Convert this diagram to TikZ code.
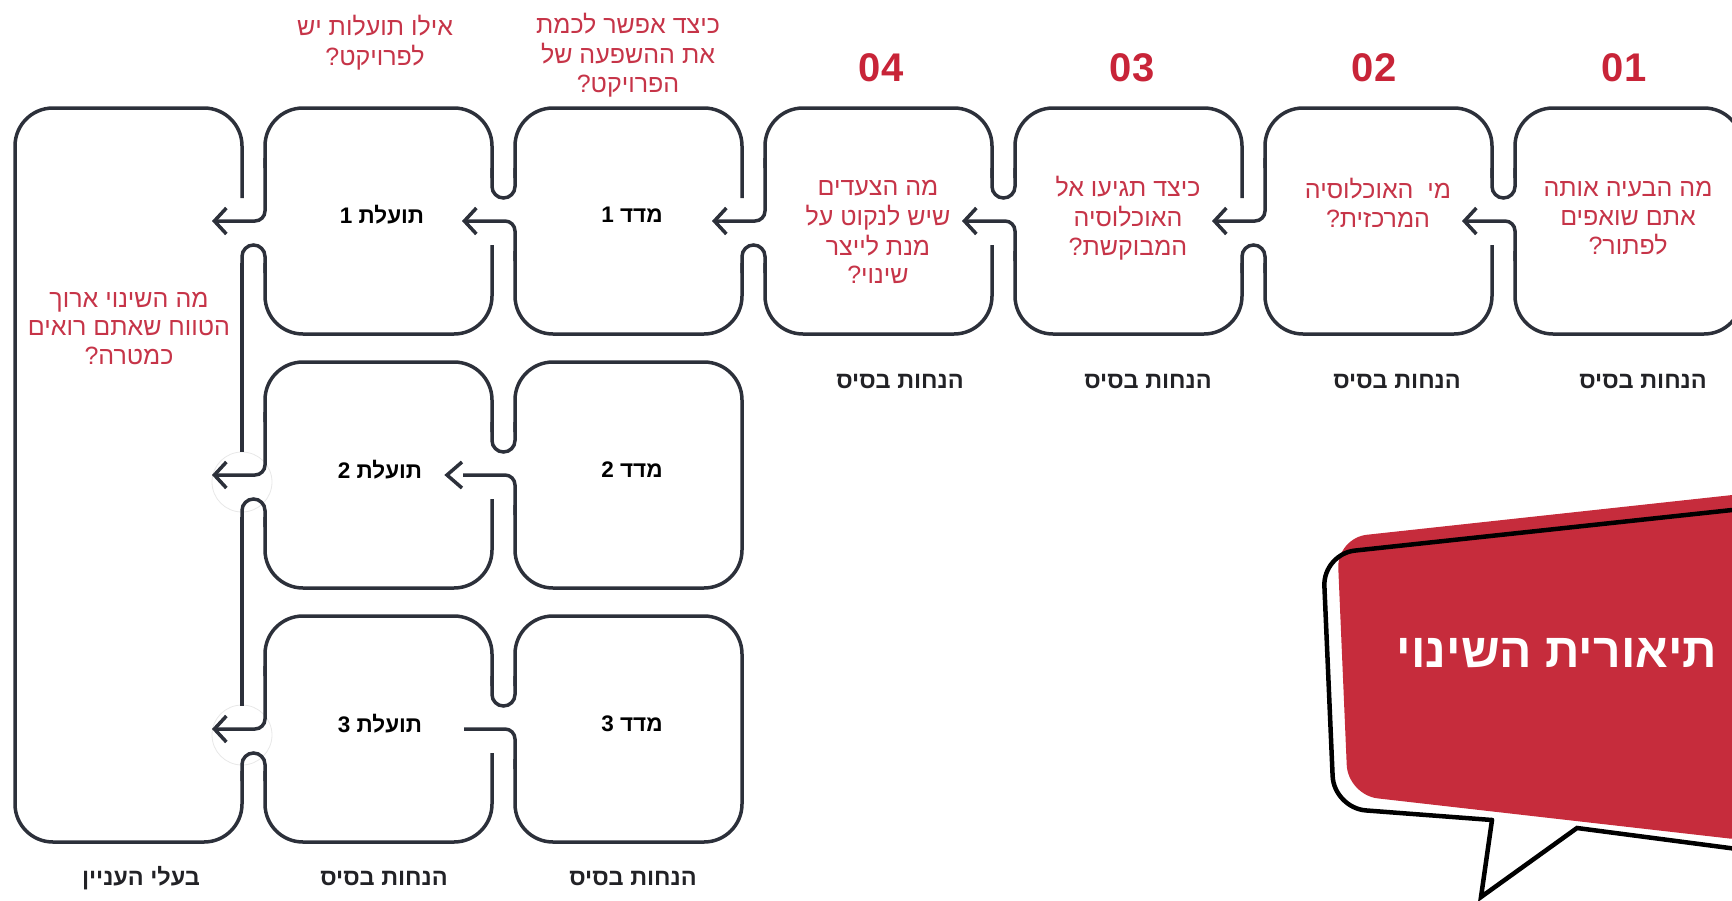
\documentclass[tikz,border=0pt]{standalone}
\usepackage{fontspec}
\usetikzlibrary{arrows.meta}
\TeXXeTstate=1
\newfontfamily\heb[Script=Hebrew]{Liberation Sans}
\newcommand{\hR}[1]{\beginR #1\endR}
\definecolor{linec}{RGB}{44,48,58}
\definecolor{qred}{RGB}{198,52,72}
\definecolor{numred}{RGB}{200,36,56}
\definecolor{bubred}{RGB}{198,44,60}
\definecolor{labc}{RGB}{34,34,38}
\begin{document}
\begin{tikzpicture}[x=1pt,y=-1pt,
  ln/.style={draw=linec, line width=3.5pt},
  bx/.style={ln, rounded corners=38pt},
  jn/.style={ln, rounded corners=11.5pt},
  ar/.style={ln, rounded corners=10pt},
  tipA/.style={-{Straight Barb[length=12pt,width=26pt]}},
  q/.style={text=qred, font=\heb\fontsize{25}{28.5}\selectfont, align=center, inner sep=0pt},
  num/.style={text=numred, font=\heb\bfseries\fontsize{40}{40}\selectfont, inner sep=0pt},
  lab/.style={text=labc, font=\heb\bfseries\fontsize{23.5}{26}\selectfont, inner sep=0pt},
  bt/.style={text=black, font=\heb\bfseries\fontsize{22.5}{26}\selectfont, inner sep=0pt},
  halo/.style={fill=white, draw=black!9, line width=0.8pt},
]
\useasboundingbox (0,0) rectangle (1732,900);
\clip (0,0) rectangle (1732,900);

% faint halos
\path[halo] (242,482) circle[radius=30pt];
\path[halo] (242,735) circle[radius=30pt];

% ---------- row 1 ----------
\draw[bx] (1515,178) -- (1515,108) -- (1742,108) -- (1742,334) -- (1515,334) -- (1515,251);
\draw[bx] (1265,168) -- (1265,108) -- (1492,108) -- (1492,178);
\draw[bx] (1265,263) -- (1265,334) -- (1492,334) -- (1492,245);
\draw[bx] (1015,178) -- (1015,108) -- (1242,108) -- (1242,198);
\draw[bx] (1015,251) -- (1015,334) -- (1242,334) -- (1242,263);
\draw[bx] (765,168) -- (765,108) -- (992,108) -- (992,178);
\draw[bx] (765,263) -- (765,334) -- (992,334) -- (992,245);
\draw[bx] (515,178) -- (515,108) -- (742,108) -- (742,198);
\draw[bx] (515,251) -- (515,334) -- (742,334) -- (742,263);
\draw[bx] (265,168) -- (265,108) -- (492,108) -- (492,178);
\draw[bx] (265,263) -- (265,334) -- (492,334) -- (492,245);
\draw[bx] (242,198) -- (242,108) -- (15,108) -- (15,842) -- (242,842) -- (242,771);

% U joints (top half)
\draw[jn] (1515,168) -- (1515,198) -- (1492,198) -- (1492,168);
\draw[jn] (1015,168) -- (1015,198) -- (992,198) -- (992,168);
\draw[jn] (515,168) -- (515,198) -- (492,198) -- (492,168);
% inverted U joints (bottom half)
\draw[jn] (1265,273) -- (1265,245) -- (1242,245) -- (1242,273);
\draw[jn] (765,273) -- (765,245) -- (742,245) -- (742,273);
\draw[jn] (265,273) -- (265,245) -- (242,245) -- (242,273);

% arrows row 1
\coordinate (a1s) at (1515,261); \coordinate (a1c) at (1515,221); \coordinate (a1t) at (1462,221);
\coordinate (a2s) at (1265,158); \coordinate (a2c) at (1265,221); \coordinate (a2t) at (1212,221);
\coordinate (a3s) at (1015,261); \coordinate (a3c) at (1015,221); \coordinate (a3t) at (962,221);
\coordinate (a4s) at (765,158);  \coordinate (a4c) at (765,221);  \coordinate (a4t) at (712,221);
\coordinate (a5s) at (515,261);  \coordinate (a5c) at (515,221);  \coordinate (a5t) at (462,221);
\coordinate (a6s) at (265,158);  \coordinate (a6c) at (265,221);  \coordinate (a6t) at (212,221);
\foreach \i in {1,...,6}{\draw[ar,tipA] (a\i s) -- (a\i c) -- (a\i t);}

% big box right edge segments
\coordinate (g1a) at (242,263); \coordinate (g1b) at (242,452);
\coordinate (g2a) at (242,517); \coordinate (g2b) at (242,706);
\draw[ln] (g1a) -- (g1b);
\draw[ln] (g2a) -- (g2b);

% ---------- row 2 ----------
\draw[bx] (515,432) -- (515,362) -- (742,362) -- (742,588) -- (515,588) -- (515,505);
\draw[bx] (265,422) -- (265,362) -- (492,362) -- (492,432);
\draw[bx] (265,517) -- (265,588) -- (492,588) -- (492,499);
\draw[jn] (515,422) -- (515,452) -- (492,452) -- (492,422);
\draw[jn] (265,527) -- (265,499) -- (242,499) -- (242,527);
\coordinate (b1s) at (515,515); \coordinate (b1c) at (515,475); \coordinate (b1t) at (463,475);
\draw[ar] (b1s) -- (b1c) -- (b1t);
\coordinate (h1a) at (462,462); \coordinate (h1t) at (447,475); \coordinate (h1b) at (462,488);
\draw[ln] (h1a) -- (h1t) -- (h1b);
\coordinate (b2s) at (265,412); \coordinate (b2c) at (265,475); \coordinate (b2t) at (212,475);
\draw[ar,tipA] (b2s) -- (b2c) -- (b2t);

% ---------- row 3 ----------
\draw[bx] (515,686) -- (515,616) -- (742,616) -- (742,842) -- (515,842) -- (515,759);
\draw[bx] (265,676) -- (265,616) -- (492,616) -- (492,686);
\draw[bx] (265,771) -- (265,842) -- (492,842) -- (492,753);
\draw[jn] (515,676) -- (515,706) -- (492,706) -- (492,676);
\draw[jn] (265,781) -- (265,753) -- (242,753) -- (242,781);
\coordinate (c1s) at (515,769); \coordinate (c1c) at (515,729); \coordinate (c1t) at (464,729);
\draw[ar] (c1s) -- (c1c) -- (c1t);
\coordinate (c2s) at (265,666); \coordinate (c2c) at (265,729); \coordinate (c2t) at (212,729);
\draw[ar,tipA] (c2s) -- (c2c) -- (c2t);

% ---------- texts ----------
\node[num] (n1) at (1624,68) {01};
\node[num] (n2) at (1374,68) {02};
\node[num] (n3) at (1132,68) {03};
\node[num] (n4) at (881,68) {04};

\node[q] (q1) at (1628,220) {\hR{מה הבעיה אותה}\strut\\\hR{אתם שואפים}\strut\\\hR{לפתור?}\strut};
\node[q] (q2) at (1378,207) {\hR{מי\ \ האוכלוסיה}\strut\\\hR{המרכזית?}\strut};
\node[q] (q3) at (1128,220) {\hR{כיצד תגיעו אל}\strut\\\hR{האוכלוסיה}\strut\\\hR{המבוקשת?}\strut};
\node[q] (q4) at (878,234) {\hR{מה הצעדים}\strut\\\hR{שיש לנקוט על}\strut\\\hR{מנת לייצר}\strut\\\hR{שינוי?}\strut};
\node[q] (q5) at (628,57) {\hR{כיצד אפשר לכמת}\strut\\\hR{את ההשפעה של}\strut\\\hR{הפרויקט?}\strut};
\node[q] (q6) at (375,45) {\hR{אילו תועלות יש}\strut\\\hR{לפרויקט?}\strut};
\node[q] (q7) at (129,330) {\hR{מה השינוי ארוך}\strut\\\hR{הטווח שאתם רואים}\strut\\\hR{כמטרה?}\strut};

\node[bt] (m1) at (632,215) {\hR{מדד 1}};
\node[bt] (t1) at (382,215) {\hR{תועלת 1}};
\node[bt] (m2) at (632,470) {\hR{מדד 2}};
\node[bt] (t2) at (380,470) {\hR{תועלת 2}};
\node[bt] (m3) at (632,724) {\hR{מדד 3}};
\node[bt] (t3) at (380,724) {\hR{תועלת 3}};

\node[lab] (l1) at (1643,381) {\hR{הנחות בסיס}};
\node[lab] (l2) at (1397,381) {\hR{הנחות בסיס}};
\node[lab] (l3) at (1148,381) {\hR{הנחות בסיס}};
\node[lab] (l4) at (900,381) {\hR{הנחות בסיס}};
\node[lab] (l5) at (633,878) {\hR{הנחות בסיס}};
\node[lab] (l6) at (384,878) {\hR{הנחות בסיס}};
\node[lab] (l7) at (141,878) {\hR{בעלי העניין}};

% ---------- speech bubble ----------
\fill[bubred, rounded corners=30pt] (1337,538) -- (1760,492) -- (1760,842) -- (1348,795) -- cycle;
\draw[black, line width=4.5pt, rounded corners=32pt, line cap=round] (1760,507) -- (1323,554) -- (1334,808) -- (1492,820);
\draw[black, line width=4.5pt, line cap=round, line join=miter] (1492,820) -- (1481,897) -- (1577,828) -- (1760,852);
\node[text=white, font=\heb\bfseries\fontsize{48}{48}\selectfont, inner sep=0pt] (title) at (1557,653) {\hR{תיאורית השינוי}};
\end{tikzpicture}
\end{document}
